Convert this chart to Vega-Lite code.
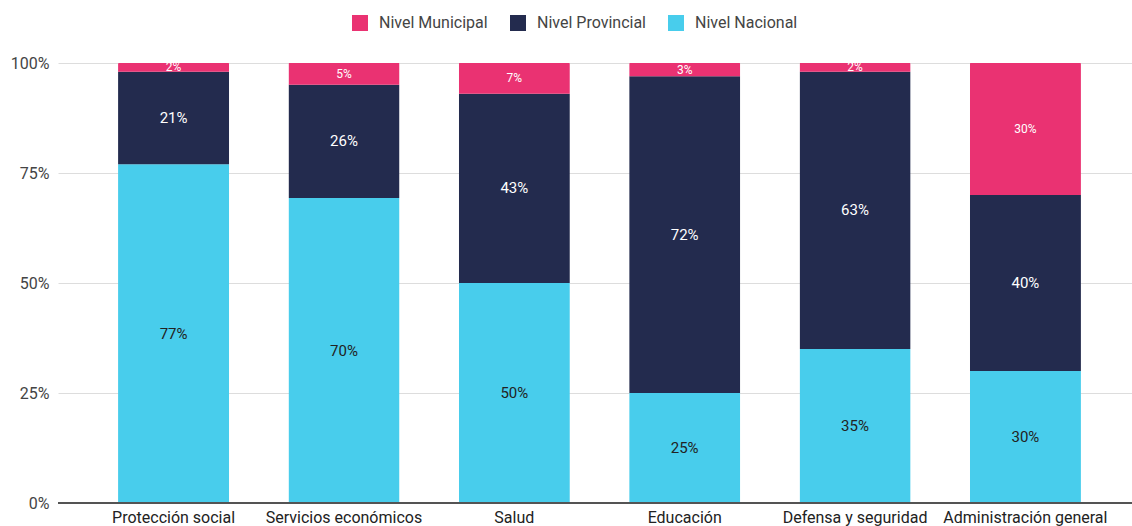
{
  "$schema": "https://vega.github.io/schema/vega-lite/v6.json",
  "width": 1074,
  "height": 440,
  "autosize": {"type": "none"},
  "padding": {"left": 58, "top": 63, "right": 0, "bottom": 23},
  "background": "white",
  "config": {
    "font": "Roboto",
    "view": {"stroke": null}
  },
  "data": {
    "values": [
      {"categoria": "Protección social", "nivel": "Nivel Nacional", "orden": 1, "valor": 0.77},
      {"categoria": "Protección social", "nivel": "Nivel Provincial", "orden": 2, "valor": 0.21},
      {"categoria": "Protección social", "nivel": "Nivel Municipal", "orden": 3, "valor": 0.02},
      {"categoria": "Servicios económicos", "nivel": "Nivel Nacional", "orden": 1, "valor": 0.70},
      {"categoria": "Servicios económicos", "nivel": "Nivel Provincial", "orden": 2, "valor": 0.26},
      {"categoria": "Servicios económicos", "nivel": "Nivel Municipal", "orden": 3, "valor": 0.05},
      {"categoria": "Salud", "nivel": "Nivel Nacional", "orden": 1, "valor": 0.50},
      {"categoria": "Salud", "nivel": "Nivel Provincial", "orden": 2, "valor": 0.43},
      {"categoria": "Salud", "nivel": "Nivel Municipal", "orden": 3, "valor": 0.07},
      {"categoria": "Educación", "nivel": "Nivel Nacional", "orden": 1, "valor": 0.25},
      {"categoria": "Educación", "nivel": "Nivel Provincial", "orden": 2, "valor": 0.72},
      {"categoria": "Educación", "nivel": "Nivel Municipal", "orden": 3, "valor": 0.03},
      {"categoria": "Defensa y seguridad", "nivel": "Nivel Nacional", "orden": 1, "valor": 0.35},
      {"categoria": "Defensa y seguridad", "nivel": "Nivel Provincial", "orden": 2, "valor": 0.63},
      {"categoria": "Defensa y seguridad", "nivel": "Nivel Municipal", "orden": 3, "valor": 0.02},
      {"categoria": "Administración general", "nivel": "Nivel Nacional", "orden": 1, "valor": 0.30},
      {"categoria": "Administración general", "nivel": "Nivel Provincial", "orden": 2, "valor": 0.40},
      {"categoria": "Administración general", "nivel": "Nivel Municipal", "orden": 3, "valor": 0.30}
    ]
  },
  "encoding": {
    "x": {
      "field": "categoria",
      "type": "nominal",
      "sort": null,
      "scale": {"range": [0, 1083], "paddingInner": 0.348, "paddingOuter": 0.3525},
      "axis": {
        "title": null,
        "labelAngle": 0,
        "labelFontSize": 16,
        "labelColor": "#222222",
        "labelPadding": 6,
        "ticks": false,
        "domain": false
      }
    },
    "order": {"field": "orden", "type": "quantitative"}
  },
  "layer": [
    {
      "mark": {"type": "bar", "cornerRadius": 1},
      "encoding": {
        "y": {
          "field": "valor",
          "type": "quantitative",
          "stack": "normalize",
          "scale": {"domain": [0, 1]},
          "axis": {
            "title": null,
            "format": ".0%",
            "values": [0, 0.25, 0.5, 0.75, 1],
            "labelFontSize": 16,
            "labelColor": "#444444",
            "labelPadding": 9,
            "ticks": false,
            "domain": false,
            "gridColor": "#dddddd",
            "gridWidth": 1
          }
        },
        "color": {
          "field": "nivel",
          "type": "nominal",
          "scale": {
            "domain": ["Nivel Municipal", "Nivel Provincial", "Nivel Nacional"],
            "range": ["#EA3272", "#232B4E", "#48CDEC"]
          },
          "legend": {
            "title": null,
            "orient": "none",
            "direction": "horizontal",
            "legendX": 294,
            "legendY": -48,
            "symbolType": "square",
            "symbolSize": 256,
            "symbolStrokeWidth": 0,
            "symbolOpacity": 1,
            "labelFontSize": 16,
            "labelColor": "#444444",
            "labelOffset": 11,
            "columnPadding": 22
          }
        }
      }
    },
    {
      "mark": {"type": "rule", "color": "#555555", "strokeWidth": 1.5},
      "encoding": {"y": {"datum": 0, "type": "quantitative"}, "x": null, "order": null}
    },
    {
      "mark": {"type": "text", "baseline": "middle", "align": "center"},
      "encoding": {
        "y": {
          "field": "valor",
          "type": "quantitative",
          "stack": "normalize",
          "bandPosition": 0.5
        },
        "text": {"field": "valor", "type": "quantitative", "format": ".0%"},
        "color": {
          "condition": {"test": "datum.nivel === 'Nivel Nacional'", "value": "#222222"},
          "value": "#ffffff"
        },
        "size": {
          "condition": {"test": "datum.nivel === 'Nivel Municipal'", "value": 12},
          "value": 15
        }
      }
    }
  ]
}
